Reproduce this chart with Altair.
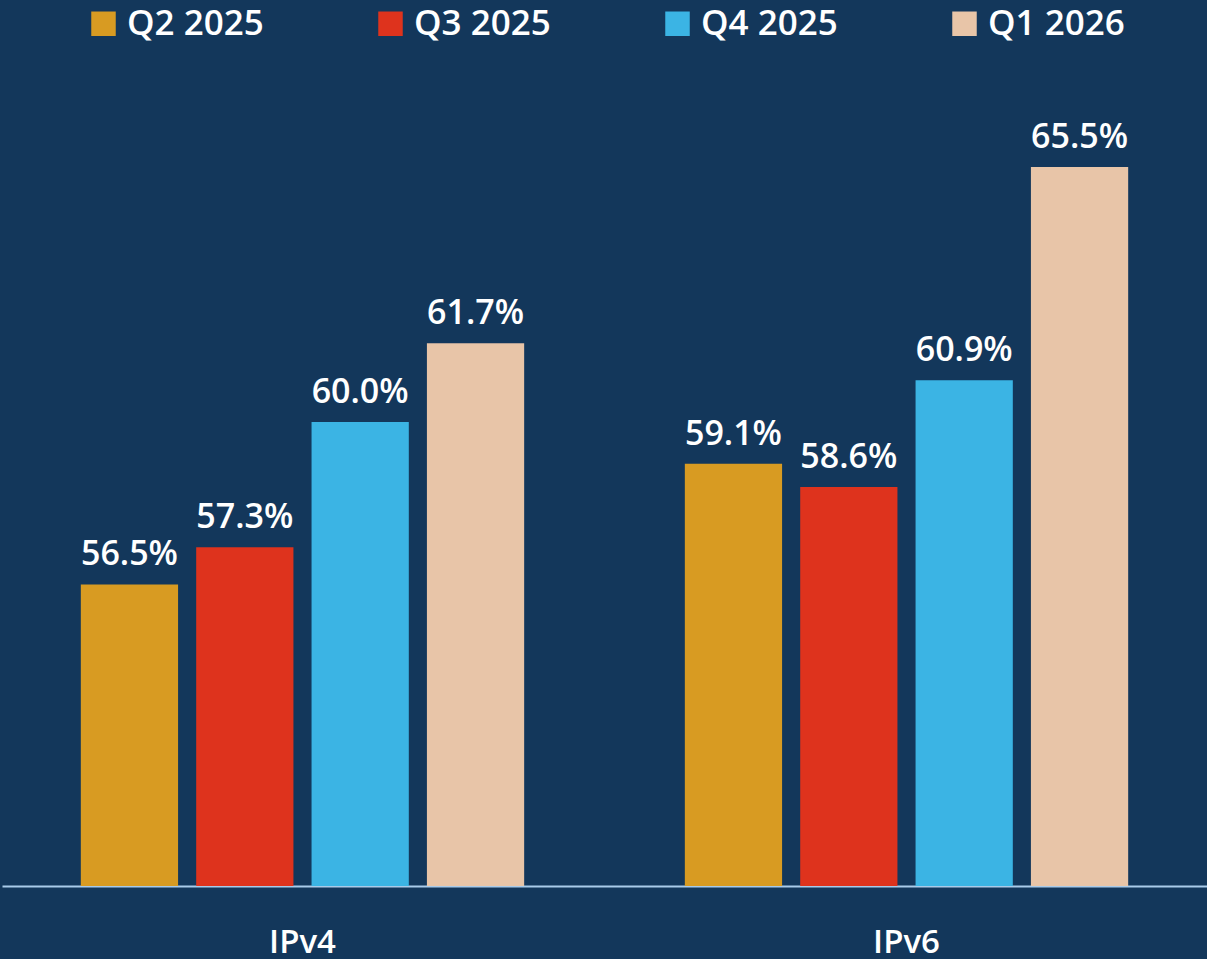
import altair as alt
import pandas as pd

protocols = ["IPv4", "IPv6"]
quarters = ["Q2 2025", "Q3 2025", "Q4 2025", "Q1 2026"]
ipv4_values = [56.5, 57.3, 60.0, 61.7]
ipv6_values = [59.1, 58.6, 60.9, 65.5]
colors = ["#D89B22", "#DE331D", "#3BB4E4", "#E8C5A8"]

rows = []
for q, v in zip(quarters, ipv4_values):
    rows.append({"protocol": "IPv4", "quarter": q, "value": v})
for q, v in zip(quarters, ipv6_values):
    rows.append({"protocol": "IPv6", "quarter": q, "value": v})
df = pd.DataFrame(rows)
df["label"] = df["value"].map(lambda v: f"{v:.1f}%")

FONT = "Open Sans"

x = alt.X("protocol:N", sort=protocols,
          scale=alt.Scale(paddingInner=0.266, paddingOuter=0.1305, range=[2, 1207]),
          axis=alt.Axis(title=None, labelAngle=0, ticks=False, domainColor="#A9CBEA",
                        domainWidth=2, labelColor="white", labelFontSize=33,
                        labelFontWeight=600, labelFont=FONT, labelPadding=40,
                        labelBaseline="top"))
xo = alt.XOffset("quarter:N", sort=quarters,
                 scale=alt.Scale(paddingInner=0.157, paddingOuter=0))
y = alt.Y("value:Q", scale=alt.Scale(domain=[50, 68], zero=False, nice=False, clamp=True),
          axis=None)

bars = alt.Chart(df).mark_bar(cornerRadius=0).encode(
    x=x, xOffset=xo, y=y, y2=alt.datum(50),
    color=alt.Color("quarter:N", sort=quarters,
                    scale=alt.Scale(domain=quarters, range=colors),
                    legend=alt.Legend(title=None, orient="none", direction="horizontal",
                                      legendX=86, legendY=-45, symbolType="square",
                                      symbolSize=600, symbolStrokeWidth=0,
                                      labelFontSize=35, labelFontWeight=600,
                                      labelFont=FONT, labelColor="white",
                                      labelOffset=6, columnPadding=109,
                                      labelLimit=300)),
)

labels = alt.Chart(df).mark_text(baseline="alphabetic", dy=-19, fontSize=34,
                                 fontWeight=600, font=FONT, color="white").encode(
    x=x, xOffset=xo, y=y, text="label:N",
)

chart = alt.layer(bars, labels).properties(
    width=1207, height=835,
    background="#13375B",
    padding={"left": 0, "top": 51, "right": 0, "bottom": 73},
    autosize=alt.AutoSizeParams(type="none"),
).configure_view(stroke=None)

chart.save("out.html", embed_options={"renderer": "svg", "actions": False})
